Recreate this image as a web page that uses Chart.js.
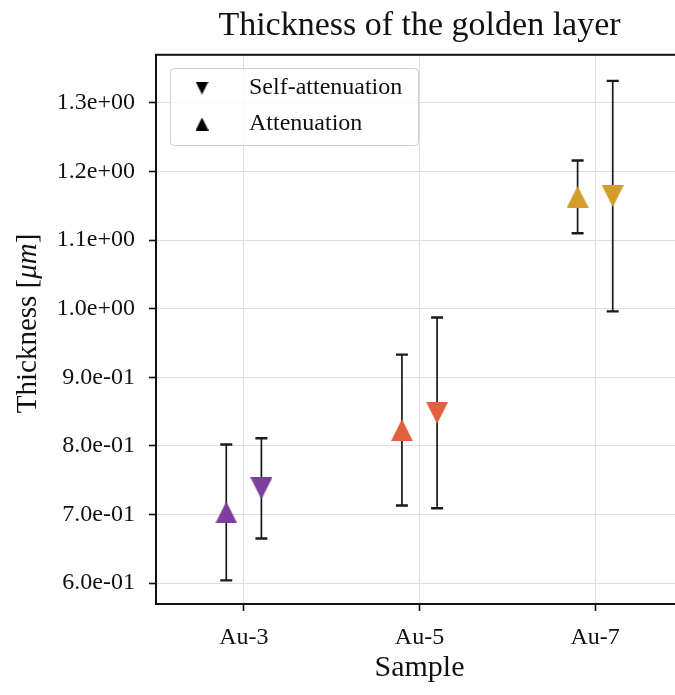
<!DOCTYPE html>
<html>
<head>
<meta charset="utf-8">
<script src="https://cdn.jsdelivr.net/npm/chart.js@4.4.1/dist/chart.umd.min.js"></script>
<style>
    body { margin: 0; overflow: hidden; background: #fff; }
    #wrap { position: absolute; left: 0; top: 0; width: 675px; height: 695px; overflow: hidden; }
</style>
</head>
<body>
<div id="wrap"><canvas id="chart" width="695" height="695"></canvas></div>
<script>
const samples = ['Au-3', 'Au-5', 'Au-7'];
const sampleColors = ['#7b3f9e', '#e2603f', '#d29d2b'];

const attenuation = [0.703, 0.823, 1.163];
const attenuationErr = [0.099, 0.110, 0.053];
const selfAttenuation = [0.738, 0.848, 1.164];
const selfAttenuationErr = [0.073, 0.139, 0.168];

const yTicks = [0.6, 0.7, 0.8, 0.9, 1.0, 1.1, 1.2, 1.3];
const yTickLabels = ['6.0e-01', '7.0e-01', '8.0e-01', '9.0e-01', '1.0e+00', '1.1e+00', '1.2e+00', '1.3e+00'];

const legendNames = ['Self-attenuation', 'Attenuation'];

const shift = 0.1;
const font = 'Liberation Serif';

function triangle(color, size, down) {
    const c = document.createElement('canvas');
    c.width = size;
    c.height = size;
    const g = c.getContext('2d');
    g.fillStyle = color;
    g.beginPath();
    if (down) {
        g.moveTo(0, 0);
        g.lineTo(size, 0);
        g.lineTo(size / 2, size);
    } else {
        g.moveTo(size / 2, 0);
        g.lineTo(size, size);
        g.lineTo(0, size);
    }
    g.closePath();
    g.fill();
    return c;
}

// error bars and the axes frame, under the markers
const errorBars = {
    id: 'errorBars',
    beforeDatasetsDraw(chart) {
        const { ctx, chartArea: a, scales: { x, y } } = chart;
        ctx.save();
        ctx.strokeStyle = '#1a1a1a';
        chart.data.datasets.forEach(ds => {
            ds.data.forEach((p, i) => {
                const px = x.getPixelForValue(p.x);
                const top = y.getPixelForValue(p.y + ds.err[i]);
                const bot = y.getPixelForValue(p.y - ds.err[i]);
                ctx.lineWidth = 1.7;
                ctx.beginPath();
                ctx.moveTo(px, top);
                ctx.lineTo(px, bot);
                ctx.stroke();
                ctx.lineWidth = 2.4;
                ctx.beginPath();
                ctx.moveTo(px - 6, top);
                ctx.lineTo(px + 6, top);
                ctx.moveTo(px - 6, bot);
                ctx.lineTo(px + 6, bot);
                ctx.stroke();
            });
        });
        ctx.lineWidth = 2;
        ctx.strokeStyle = '#111';
        ctx.strokeRect(a.left, a.top, a.right - a.left, a.bottom - a.top);
        ctx.restore();
    }
};

const legendBox = {
    id: 'legendBox',
    afterDraw(chart) {
        const ctx = chart.ctx;
        ctx.save();
        ctx.beginPath();
        ctx.roundRect(170.5, 68.5, 248, 77, 4);
        ctx.fillStyle = 'rgba(255,255,255,0.8)';
        ctx.fill();
        ctx.strokeStyle = '#d0d0d0';
        ctx.lineWidth = 1;
        ctx.stroke();
        const marks = [triangle('#000', 13, true), triangle('#000', 13, false)];
        const rows = [88, 124];
        ctx.font = '24px "' + font + '"';
        ctx.fillStyle = '#111';
        ctx.textBaseline = 'middle';
        legendNames.forEach((name, i) => {
            ctx.drawImage(marks[i], 202 - 6.5, rows[i] - 6.5);
            ctx.fillText(name, 249, rows[i]);
        });
        ctx.restore();
    }
};

// y label with the italic unit
const yLabel = {
    id: 'yLabel',
    afterDraw(chart) {
        const ctx = chart.ctx;
        const parts = [['Thickness [', 'normal'], ['\u03bcm', 'italic'], [']', 'normal']];
        ctx.save();
        let total = 0;
        parts.forEach(p => {
            ctx.font = p[1] + ' 29px "' + font + '"';
            total += ctx.measureText(p[0]).width;
        });
        const cy = (chart.chartArea.top + chart.chartArea.bottom) / 2 - 6;
        ctx.translate(28, cy);
        ctx.rotate(-Math.PI / 2);
        ctx.fillStyle = '#111';
        ctx.textBaseline = 'middle';
        let xPos = -total / 2;
        parts.forEach(p => {
            ctx.font = p[1] + ' 29px "' + font + '"';
            ctx.fillText(p[0], xPos, 0);
            xPos += ctx.measureText(p[0]).width;
        });
        ctx.restore();
    }
};

function main() {
    Chart.defaults.font.family = font;
    Chart.defaults.color = '#111';

    const datasets = [
        {
            label: legendNames[0],
            data: samples.map((s, i) => ({ x: i + shift, y: selfAttenuation[i] })),
            err: selfAttenuationErr,
            pointStyle: samples.map((s, i) => triangle(sampleColors[i], 22, true)),
        },
        {
            label: legendNames[1],
            data: samples.map((s, i) => ({ x: i - shift, y: attenuation[i] })),
            err: attenuationErr,
            pointStyle: samples.map((s, i) => triangle(sampleColors[i], 22, false)),
        }
    ];
    datasets.forEach(ds => {
        ds.showLine = false;
        ds.pointRadius = 11;
        ds.pointHoverRadius = 11;
    });

    new Chart(document.getElementById('chart'), {
        type: 'scatter',
        data: { datasets: datasets },
        options: {
            responsive: false,
            animation: false,
            events: [],
            layout: { padding: 0 },
            plugins: {
                legend: { display: false },
                tooltip: { enabled: false },
                title: {
                    display: true,
                    text: 'Thickness of the golden layer',
                    fullSize: false,
                    font: { size: 34, weight: 'normal', lineHeight: 1.2 },
                    color: '#111',
                    padding: { top: 6, bottom: 8 }
                }
            },
            scales: {
                x: {
                    type: 'linear',
                    min: -0.5,
                    max: 2.5,
                    afterBuildTicks: s => { s.ticks = samples.map((n, i) => ({ value: i })); },
                    afterFit: s => { s.height = 91; },
                    ticks: {
                        callback: v => samples[v],
                        font: { size: 24 },
                        padding: 12,
                        maxRotation: 0
                    },
                    grid: { color: '#dedede', lineWidth: 1, tickLength: 7, tickColor: '#111', tickWidth: 1.6 },
                    border: { display: false },
                    title: {
                        display: true,
                        text: 'Sample',
                        font: { size: 30 },
                        padding: { bottom: 9 }
                    }
                },
                y: {
                    min: 0.5695,
                    max: 1.370,
                    afterBuildTicks: s => { s.ticks = yTicks.map(v => ({ value: v })); },
                    afterFit: s => { s.width = 156; },
                    ticks: {
                        callback: (v, i) => yTickLabels[i],
                        font: { size: 24 },
                        padding: 14
                    },
                    grid: { color: '#dedede', lineWidth: 1, tickLength: 7, tickColor: '#111', tickWidth: 1.6 },
                    border: { display: false }
                }
            }
        },
        plugins: [errorBars, legendBox, yLabel]
    });
}

window.onload = main;
</script>
</body>
</html>
